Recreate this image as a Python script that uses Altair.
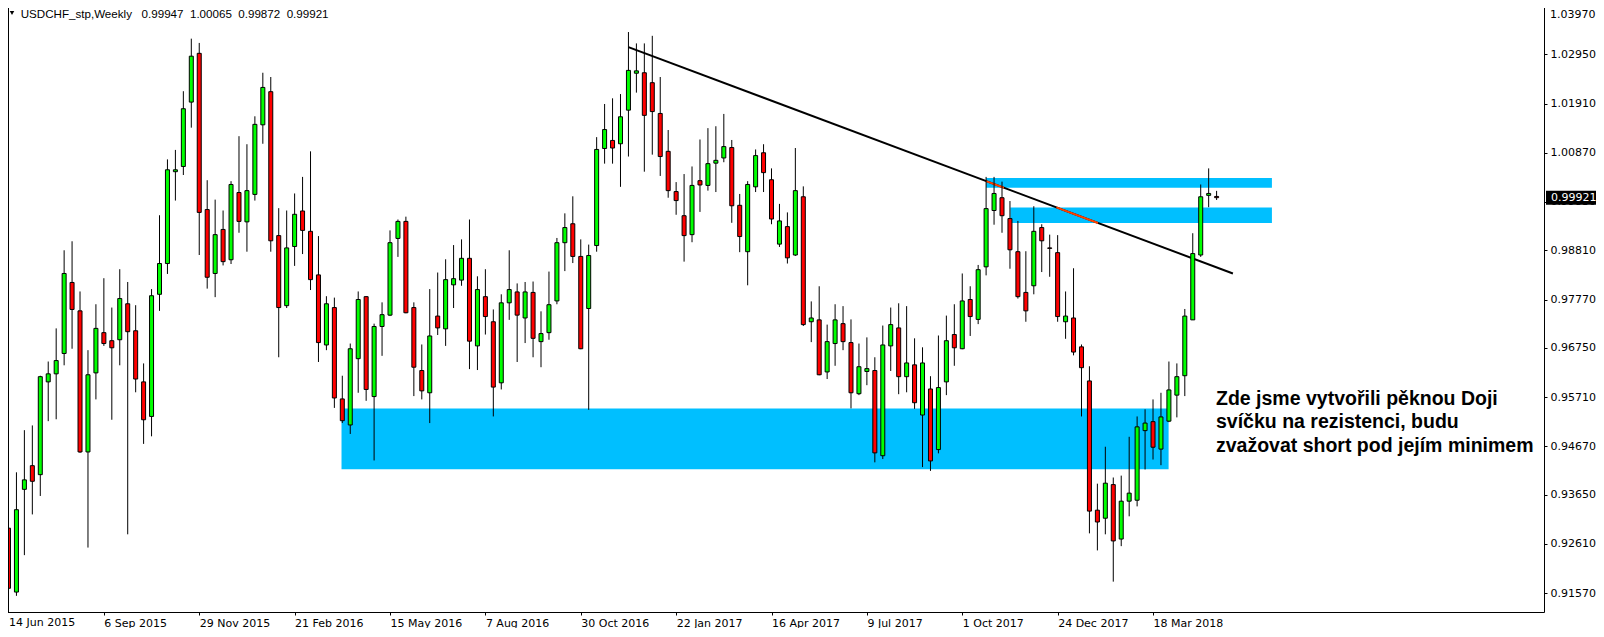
import altair as alt
import pandas as pd

# ---------------- data ----------------
opens = [0.9294, 0.9159, 0.9376, 0.9426, 0.9407, 0.9603, 0.9620, 0.9663, 0.9813, 0.9753,
         0.9455, 0.9622, 0.9707, 0.9690, 0.9692, 0.9768, 0.9711, 0.9603, 0.9530, 0.9788,
         0.9853, 1.0047, 1.0058, 1.0194, 1.0297, 0.9967, 0.9832, 0.9925, 0.9861, 1.0003,
         0.9941, 0.9999, 1.0146, 1.0216, 0.9912, 0.9764, 0.9889, 0.9964, 0.9921, 0.9829,
         0.9681, 0.9760, 0.9567, 0.9512, 0.9652, 0.9783, 0.9572, 0.9720, 0.9744, 0.9906,
         0.9942, 0.9760, 0.9627, 0.9580, 0.9742, 0.9715, 0.9808, 0.9818, 0.9864, 0.9679,
         0.9783, 0.9730, 0.9601, 0.9770, 0.9793, 0.9738, 0.9792, 0.9688, 0.9707, 0.9774,
         0.9897, 0.9937, 0.9868, 0.9758, 0.9891, 1.0096, 1.0113, 1.0106, 1.0177, 1.0255,
         1.0256, 1.0235, 1.0170, 1.0090, 1.0005, 0.9954, 0.9914, 1.0028, 1.0018, 1.0065,
         1.0076, 1.0098, 0.9976, 0.9878, 1.0015, 1.0087, 1.0030, 0.9894, 0.9931, 0.9871,
         0.9994, 0.9730, 0.9734, 0.9624, 0.9684, 0.9726, 0.9686, 0.9578, 0.9625, 0.9627,
         0.9447, 0.9679, 0.9717, 0.9614, 0.9639, 0.9533, 0.9588, 0.9460, 0.9603, 0.9703,
         0.9673, 0.9777, 0.9735, 0.9846, 0.9965, 0.9992, 0.9948, 0.9878, 0.9792, 0.9806,
         0.9929, 0.9886, 0.9876, 0.9730, 0.9738, 0.9677, 0.9605, 0.9332, 0.9315, 0.9386,
         0.9271, 0.9351, 0.9353, 0.9500, 0.9519, 0.9461, 0.9520, 0.9575, 0.9616, 0.9734,
         0.9871, 0.9997, 0.99947]
highs = [0.9380, 0.9412, 0.9501, 0.9511, 0.9616, 0.9646, 0.9716, 0.9881, 0.9900, 0.9794,
         0.9670, 0.9767, 0.9822, 0.9760, 0.9841, 0.9814, 0.9765, 0.9642, 0.9799, 0.9955,
         1.0073, 1.0093, 1.0217, 1.0328, 1.0319, 1.0029, 0.9988, 0.9965, 1.0027, 1.0122,
         1.0105, 1.0164, 1.0256, 1.0247, 0.9970, 0.9965, 1.0001, 1.0036, 1.0090, 0.9911,
         0.9784, 0.9781, 0.9616, 0.9684, 0.9794, 0.9784, 0.9726, 0.9771, 0.9923, 0.9946,
         0.9952, 0.9771, 0.9682, 0.9799, 0.9834, 0.9862, 0.9892, 0.9904, 0.9946, 0.9826,
         0.9841, 0.9756, 0.9788, 0.9881, 0.9811, 0.9814, 0.9815, 0.9752, 0.9836, 0.9907,
         0.9959, 0.9995, 0.9904, 0.9893, 1.0120, 1.0190, 1.0202, 1.0211, 1.0342, 1.0318,
         1.0318, 1.0334, 1.0247, 1.0135, 1.0025, 1.0042, 1.0058, 1.0115, 1.0139, 1.0143,
         1.0169, 1.0114, 1.0000, 1.0027, 1.0094, 1.0105, 1.0054, 0.9979, 0.9961, 1.0097,
         1.0016, 0.9773, 0.9805, 0.9724, 0.9767, 0.9763, 0.9735, 0.9684, 0.9697, 0.9655,
         0.9722, 0.9760, 0.9769, 0.9763, 0.9695, 0.9676, 0.9615, 0.9701, 0.9743, 0.9767,
         0.9832, 0.9805, 0.9850, 1.0036, 1.0036, 1.0026, 0.9985, 0.9943, 0.9879, 0.9974,
         0.9936, 0.9914, 0.9913, 0.9794, 0.9843, 0.9682, 0.9636, 0.9388, 0.9466, 0.9401,
         0.9405, 0.9487, 0.9530, 0.9545, 0.9566, 0.9580, 0.9646, 0.9642, 0.9757, 0.9917,
         1.0020, 1.0054, 1.00065]
lows = [0.9150, 0.9151, 0.9237, 0.9323, 0.9362, 0.9520, 0.9524, 0.9638, 0.9673, 0.9453,
        0.9253, 0.9566, 0.9679, 0.9523, 0.9638, 0.9281, 0.9581, 0.9472, 0.9488, 0.9753,
        0.9831, 0.9986, 1.0040, 1.0140, 0.9871, 0.9800, 0.9782, 0.9849, 0.9852, 0.9918,
        0.9878, 0.9986, 1.0106, 0.9878, 0.9655, 0.9759, 0.9848, 0.9873, 0.9797, 0.9645,
        0.9670, 0.9548, 0.9516, 0.9493, 0.9580, 0.9563, 0.9437, 0.9658, 0.9742, 0.9867,
        0.9748, 0.9573, 0.9566, 0.9516, 0.9702, 0.9679, 0.9759, 0.9806, 0.9630, 0.9628,
        0.9703, 0.9530, 0.9587, 0.9734, 0.9645, 0.9685, 0.9655, 0.9634, 0.9692, 0.9767,
        0.9837, 0.9854, 0.9672, 0.9544, 0.9878, 1.0064, 1.0064, 1.0015, 1.0079, 1.0214,
        1.0047, 1.0083, 1.0038, 0.9992, 0.9956, 0.9857, 0.9898, 0.9962, 1.0007, 1.0004,
        1.0067, 0.9939, 0.9877, 0.9807, 1.0004, 1.0004, 0.9936, 0.9888, 0.9853, 0.9869,
        0.9721, 0.9687, 0.9617, 0.9609, 0.9637, 0.9670, 0.9547, 0.9575, 0.9596, 0.9433,
        0.9440, 0.9626, 0.9577, 0.9581, 0.9546, 0.9423, 0.9415, 0.9452, 0.9575, 0.9637,
        0.9672, 0.9700, 0.9725, 0.9828, 0.9935, 0.9918, 0.9842, 0.9779, 0.9730, 0.9788,
        0.9835, 0.9825, 0.9730, 0.9694, 0.9659, 0.9530, 0.9283, 0.9247, 0.9281, 0.9181,
        0.9256, 0.9319, 0.9340, 0.9418, 0.9439, 0.9427, 0.9518, 0.9528, 0.9573, 0.9734,
        0.9867, 0.9972, 0.99872]
closes = [0.9167, 0.9333, 0.9396, 0.9393, 0.9614, 0.9620, 0.9648, 0.9832, 0.9756, 0.9455,
          0.9618, 0.9716, 0.9684, 0.9675, 0.9779, 0.9709, 0.9609, 0.9523, 0.9785, 0.9853,
          1.0051, 1.0051, 1.0180, 1.0291, 0.9961, 0.9824, 0.9914, 0.9857, 1.0020, 0.9942,
          1.0007, 1.0147, 1.0225, 0.9901, 0.9760, 0.9886, 0.9957, 0.9923, 0.9819, 0.9686,
          0.9768, 0.9569, 0.9521, 0.9673, 0.9777, 0.9587, 0.9720, 0.9745, 0.9897, 0.9942,
          0.9749, 0.9634, 0.9584, 0.9700, 0.9717, 0.9819, 0.9821, 0.9864, 0.9689, 0.9798,
          0.9741, 0.9592, 0.9770, 0.9798, 0.9744, 0.9793, 0.9695, 0.9705, 0.9766, 0.9897,
          0.9929, 0.9868, 0.9673, 0.9870, 1.0094, 1.0136, 1.0097, 1.0163, 1.0261, 1.0260,
          1.0166, 1.0174, 1.0079, 1.0007, 0.9986, 0.9912, 1.0018, 1.0019, 1.0064, 1.0071,
          1.0100, 0.9975, 0.9910, 1.0020, 1.0081, 1.0045, 0.9947, 0.9943, 0.9865, 1.0007,
          0.9724, 0.9738, 0.9618, 0.9688, 0.9734, 0.9688, 0.9580, 0.9635, 0.9631, 0.9453,
          0.9681, 0.9724, 0.9614, 0.9643, 0.9559, 0.9643, 0.9436, 0.9591, 0.9690, 0.9675,
          0.9774, 0.9741, 0.9840, 0.9969, 1.0001, 0.9954, 0.9882, 0.9783, 0.9753, 0.9921,
          0.9901, 0.9885, 0.9741, 0.9742, 0.9666, 0.9633, 0.9330, 0.9307, 0.9389, 0.9267,
          0.9351, 0.9368, 0.9508, 0.9516, 0.9465, 0.9529, 0.9586, 0.9614, 0.9742, 0.9874,
          0.9994, 1.0001, 0.99921]

date_labels = ["14 Jun 2015", "6 Sep 2015", "29 Nov 2015", "21 Feb 2016", "15 May 2016",
               "7 Aug 2016", "30 Oct 2016", "22 Jan 2017", "16 Apr 2017", "9 Jul 2017",
               "1 Oct 2017", "24 Dec 2017", "18 Mar 2018"]
label_every = 12  # weeks between date labels

price_ticks = [1.0397, 1.0295, 1.0191, 1.0087, 0.9983, 0.9881, 0.9777, 0.9675,
               0.9571, 0.9467, 0.9365, 0.9261, 0.9157]

symbol_text = "USDCHF_stp,Weekly"
last_bar = ["0.99947", "1.00065", "0.99872", "0.99921"]
last_price = 0.99921

# zones (rectangles): start/end week index, low/high price
zone_start = [41.9, 123.0, 126.05]
zone_end = [145.96, 158.96, 158.96]
zone_low = [0.94185, 1.00131, 0.99387]
zone_high = [0.95470, 1.00335, 0.99716]

# trend line end points (week index, price)
trend_idx = [78.0, 154.05]
trend_price = [1.0310, 0.9832]

note_lines = ["Zde jsme vytvořili pěknou Doji",
              "svíčku na rezistenci, budu",
              "zvažovat short pod jejím minimem"]

# ---------------- layout ----------------
W, H = 1542, 610          # plot area
SHIFT = 6                 # part of the plot hidden behind the page margin
PX_PER_WEEK = 8.0
PX_PER_UNIT = 4734.0
X_FIRST = 1.5             # plot x of week 0
Y_REF = 4.0               # plot y of price 1.0397
TICK, LPAD, FS = 3, 3, 11

x_dom = [-X_FIRST / PX_PER_WEEK, (W - X_FIRST) / PX_PER_WEEK]
y_dom = [1.0397 - (H - Y_REF) / PX_PER_UNIT, 1.0397 + Y_REF / PX_PER_UNIT]

xs = alt.Scale(domain=x_dom, nice=False, zero=False)
ys = alt.Scale(domain=y_dom, nice=False, zero=False)

lab_arr = "[" + ",".join("'" + s + "'" for s in date_labels) + "]"
x_axis = alt.Axis(values=[k * label_every for k in range(1, len(date_labels))],
                  labelExpr=lab_arr + "[round(datum.value/" + str(label_every) + ")]",
                  labelAlign="left", labelFlush=False, labelOverlap=False,
                  tickSize=TICK, labelPadding=2, grid=False,
                  labelFont="DejaVu Sans", labelFontSize=FS, labelColor="black",
                  domainColor="black", tickColor="black", title=None)
y_axis = alt.Axis(orient="right", values=price_ticks[1:], format=".5f",
                  tickSize=TICK, labelPadding=LPAD, grid=False, labelOverlap=False,
                  labelFont="DejaVu Sans", labelFontSize=FS, labelColor="black",
                  domainColor="black", tickColor="black", title=None)


def X(f):
    return alt.X(f, type="quantitative", scale=xs, axis=x_axis)


def Y(f):
    return alt.Y(f, type="quantitative", scale=ys, axis=y_axis)


candles = pd.DataFrame({"idx": list(range(len(opens))), "open": opens, "high": highs,
                        "low": lows, "close": closes})
candles["dir"] = ["up" if c >= o else "down" for o, c in zip(opens, closes)]

zones = pd.DataFrame({"a": zone_start, "b": zone_end, "lo": zone_low, "hi": zone_high})

trend = pd.DataFrame({"a": [trend_idx[0]], "b": [trend_idx[1]],
                      "pa": [trend_price[0]], "pb": [trend_price[1]]})

# parts of the trend line that lie inside the two upper zones (drawn inverted)
slope = (trend_price[1] - trend_price[0]) / (trend_idx[1] - trend_idx[0])
segs = []
for a, b, lo, hi in zip(zone_start[1:], zone_end[1:], zone_low[1:], zone_high[1:]):
    i_hi = trend_idx[0] + (hi - trend_price[0]) / slope
    i_lo = trend_idx[0] + (lo - trend_price[0]) / slope
    s, e = max(a, min(i_hi, i_lo)), min(b, max(i_hi, i_lo))
    if e > s:
        segs.append({"a": s, "b": e,
                     "pa": trend_price[0] + slope * (s - trend_idx[0]),
                     "pb": trend_price[0] + slope * (e - trend_idx[0])})
seg_df = pd.DataFrame(segs)

half = 7.0 / PX_PER_UNIT
box = pd.DataFrame({"p": [last_price], "hi": [last_price + half], "lo": [last_price - half],
                    "t": [f"{last_price:.5f}"]})
one = pd.DataFrame({"k": [0]})

zone_layer = alt.Chart(zones).mark_rect(color="#00BFFF", clip=True).encode(
    x=X("a"), x2="b", y=Y("lo"), y2="hi")

trend_layer = alt.Chart(trend).mark_rule(color="black", strokeWidth=2, clip=True).encode(
    x=X("a"), x2="b", y=Y("pa"), y2="pb")

seg_layer = alt.Chart(seg_df).mark_rule(color="#FF4000", strokeWidth=2, clip=True).encode(
    x=X("a"), x2="b", y=Y("pa"), y2="pb")

wick_layer = alt.Chart(candles).mark_rule(color="black", strokeWidth=1, clip=True).encode(
    x=X("idx"), y=Y("low"), y2="high")

body_layer = alt.Chart(candles).mark_bar(size=4, stroke="black", strokeWidth=1,
                                         clip=True).encode(
    x=X("idx"), y=Y("open"), y2="close",
    color=alt.Color("dir:N", scale=alt.Scale(domain=["up", "down"],
                                             range=["#00FF00", "#FF0000"]), legend=None))

# frame line on the left, just inside the visible page area
left_border = alt.Chart(one).mark_rule(color="black", strokeWidth=1).encode(
    x=alt.value(SHIFT + 0.5), y=alt.value(SHIFT), y2=alt.value(H))

# first date label and top price label, kept inside the visible page area
first_date = alt.Chart(one).mark_text(align="left", baseline="top", font="DejaVu Sans",
                                      fontSize=FS, color="black",
                                      text=date_labels[0]).encode(
    x=alt.value(SHIFT + 1), y=alt.value(H + TICK + 2))
top_price = alt.Chart(one).mark_text(align="left", baseline="top", font="DejaVu Sans",
                                     fontSize=FS, color="black",
                                     text=f"{price_ticks[0]:.5f}").encode(
    x=alt.value(W + TICK + LPAD), y=alt.value(SHIFT + 0.5))

price_box = alt.Chart(box).mark_rect(color="black").encode(
    x=alt.value(W + 2), x2=alt.value(W + 52), y=Y("hi"), y2="lo")
price_txt = alt.Chart(box).mark_text(color="white", align="left", baseline="middle",
                                     font="DejaVu Sans", fontSize=FS).encode(
    x=alt.value(W + 7), y=Y("p"), text="t:N")

tri = alt.Chart(one).mark_point(shape="triangle-down", filled=True, size=20,
                                color="black", opacity=1).encode(
    x=alt.value(SHIFT + 4), y=alt.value(11))
nb = "\u00a0"
head = symbol_text + nb * 3 + (nb * 2).join(last_bar)
head_layer = alt.Chart(one).mark_text(align="left", baseline="alphabetic",
                                      font="Liberation Sans", fontSize=11.6,
                                      color="black", text=head).encode(
    x=alt.value(18.7), y=alt.value(16))

note_layers = [
    alt.Chart(one).mark_text(align="left", baseline="alphabetic", font="Liberation Sans",
                             fontSize=19.5, fontWeight="bold", color="black",
                             text=line).encode(x=alt.value(1214), y=alt.value(403 + k * 23.3))
    for k, line in enumerate(note_lines)
]

chart = alt.layer(zone_layer, trend_layer, seg_layer, wick_layer, body_layer,
                  left_border, first_date, top_price, price_box, price_txt, tri,
                  head_layer, *note_layers).properties(
    width=W, height=H,
    padding={"left": -SHIFT, "top": -SHIFT, "right": 52, "bottom": 16},
    autosize=alt.AutoSizeParams(type="none"),
    background="white",
).configure_view(strokeWidth=0)

chart.save("out.html", embed_options={"renderer": "svg", "actions": False})
